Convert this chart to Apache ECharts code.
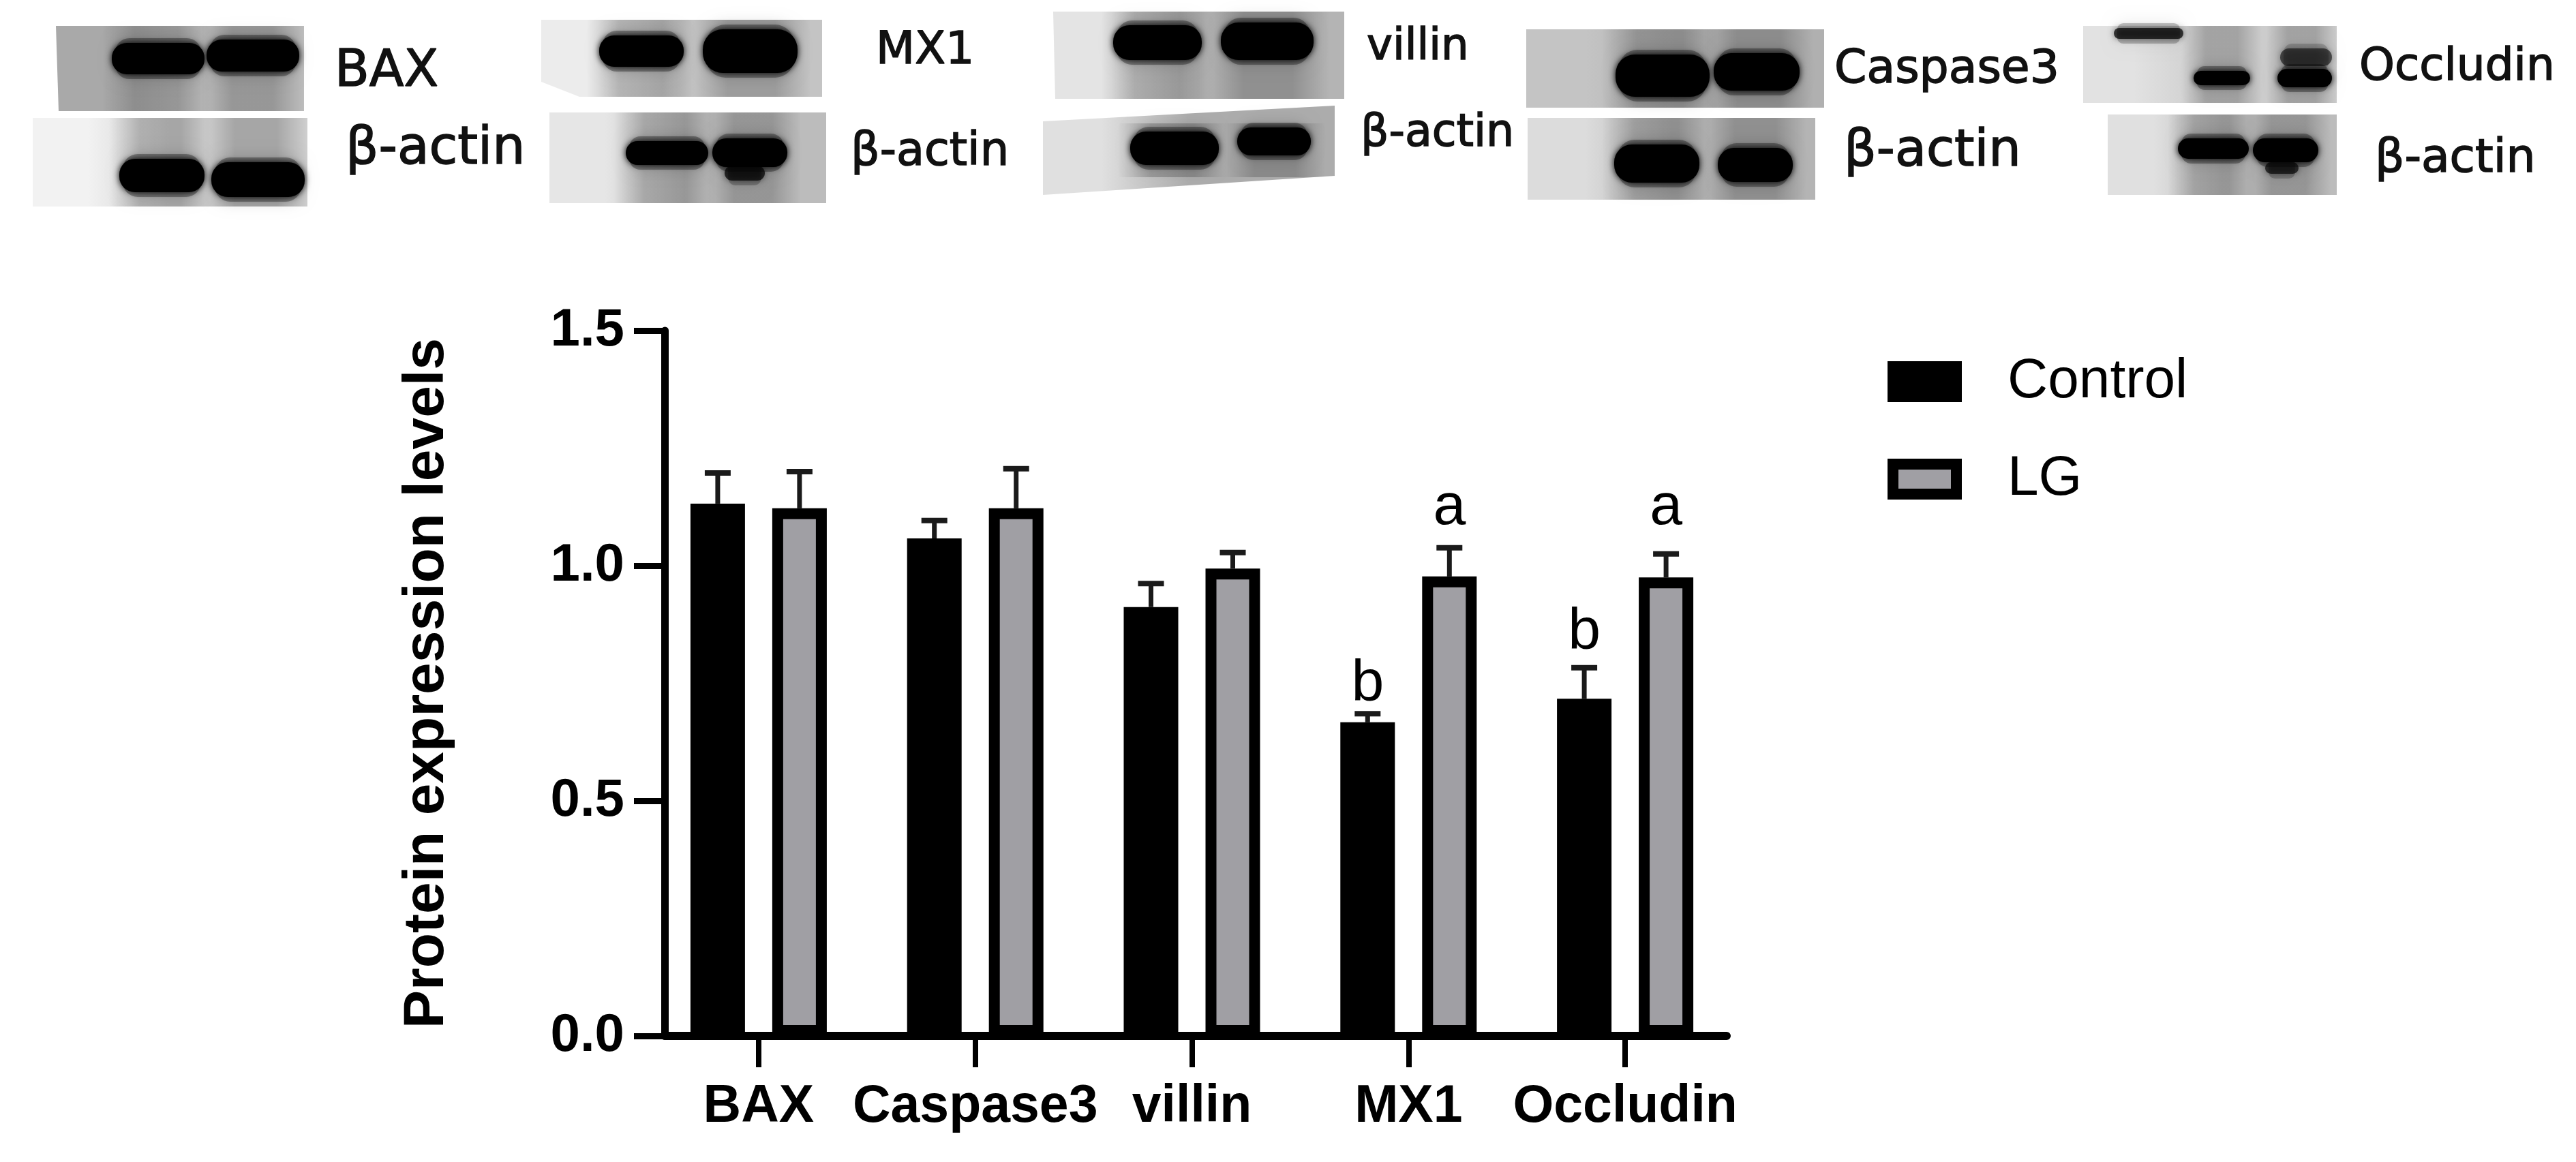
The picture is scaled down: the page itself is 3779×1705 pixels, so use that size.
<!DOCTYPE html>
<html>
<head>
<meta charset="utf-8">
<style>html,body{margin:0;padding:0;background:#fff}#c{width:3779px;height:1705px}</style>
<script src="https://cdn.jsdelivr.net/npm/echarts@6/dist/echarts.min.js"></script>
</head>
<body>
<div id="c"></div>
<script>
// ---- data ----
var categories = ['BAX', 'Caspase3', 'villin', 'MX1', 'Occludin'];
var controlValues = [1.132, 1.058, 0.912, 0.667, 0.717];
var lgValues      = [1.122, 1.122, 0.994, 0.977, 0.975];
var controlErrTop = [1.197, 1.096, 0.962, 0.685, 0.783];
var lgErrTop      = [1.200, 1.206, 1.028, 1.038, 1.025];
var yTicks = {min: 0, max: 1.5, interval: 0.5};
// letter, category index, series (0 control / 1 LG), height of its baseline
var sigLetters = [['b', 3, 0, 0.704], ['a', 3, 1, 1.08], ['b', 4, 0, 0.814], ['a', 4, 1, 1.08]];
// blot captions: text, left, baseline, font size
var blotCaptions = [
  ['BAX', 491, 133, 74], ['\u03b2-actin', 507, 247, 76],
  ['MX1', 1285, 99, 66], ['\u03b2-actin', 1248, 248, 67],
  ['villin', 2005, 93, 64], ['\u03b2-actin', 1996, 220, 65],
  ['Caspase3', 2691, 127, 68], ['\u03b2-actin', 2705, 250, 75],
  ['Occludin', 3461, 123, 66], ['\u03b2-actin', 3484, 258, 68]
];
// blot panels: outline, left/right shade, lanes, bands [x0,y0,x1,y1,alpha]
var blotPanels = [
  {p:[[82,38],[446,38],[446,163],[86,163]], c:['#a9a9a9','#bdbdbd'], l:[[150,310],[295,446]], b:[[161,60,303,112,1],[300,55,442,108,1]]},
  {p:[[48,173],[451,173],[451,303],[48,303]], c:['#f2f2f2','#cfcfcf'], l:[[160,310],[300,451]], b:[[172,230,303,285,1],[307,235,450,292,1]]},
  {p:[[794,29],[1206,29],[1206,142],[850,142],[794,120]], c:['#ececec','#c4c4c4'], l:[[860,1020],[1015,1190]], b:[[876,49,1006,101,1],[1028,40,1173,110,1]]},
  {p:[[806,165],[1212,165],[1212,298],[806,298]], c:['#e6e6e6','#bcbcbc'], l:[[900,1050],[1035,1175]], b:[[915,204,1042,245,1],[1042,200,1158,248,1],[1060,240,1125,268,0.7]]},
  {p:[[1545,17],[1972,17],[1972,145],[1548,145]], c:['#e4e4e4','#b4b4b4'], l:[[1615,1780],[1770,1950]], b:[[1630,34,1766,91,1],[1788,30,1930,91,1]]},
  {p:[[1530,178],[1958,155],[1958,258],[1530,286]], c:['#e0e0e0','#acacac'], l:[[1640,1800],[1795,1945]], b:[[1655,190,1791,245,1],[1812,184,1926,231,1]]},
  {p:[[2239,43],[2676,43],[2676,158],[2239,158]], c:['#c4c4c4','#b0b0b0'], l:[[2350,2520],[2500,2660]], b:[[2367,77,2511,145,1],[2511,75,2643,136,1]]},
  {p:[[2241,173],[2663,173],[2663,293],[2241,293]], c:['#dcdcdc','#b4b4b4'], l:[[2350,2510],[2500,2650]], b:[[2365,209,2496,271,1],[2517,214,2633,270,1]]},
  {p:[[3056,38],[3428,38],[3428,151],[3056,151]], c:['#e2e2e2','#cccccc'], l:[[3200,3318],[3325,3428]], b:[[3098,38,3206,60,0.7],[3215,101,3304,128,1],[3338,98,3424,131,1],[3342,68,3424,100,0.55]]},
  {p:[[3092,168],[3428,168],[3428,286],[3092,286]], c:['#e0e0e0','#bcbcbc'], l:[[3180,3310],[3295,3420]], b:[[3192,200,3302,236,1],[3302,200,3404,241,1],[3320,235,3375,258,0.65]]}
];
// ---- styling ----
var FONT = '"Liberation Sans", Arial, sans-serif';
var BAR_OFFSET = 60;
var chart = echarts.init(document.getElementById('c'), null, {renderer: 'canvas'});

function blotGraphics() {
  var out = [];
  blotPanels.forEach(function (b) {
    var ys = b.p.map(function (q) { return q[1]; });
    var top = Math.min.apply(null, ys), bot = Math.max.apply(null, ys);
    out.push({type: 'polygon', shape: {points: b.p}, style: {fill: new echarts.graphic.LinearGradient(0, 0, 1, 0, [
      {offset: 0, color: b.c[0]}, {offset: 0.2, color: b.c[0]}, {offset: 0.5, color: b.c[1]}, {offset: 1, color: b.c[1]}])}});
    b.l.forEach(function (l) {
      var slant = b.p[1][1] !== b.p[0][1] ? 26 : 0;
      out.push({type: 'rect', shape: {x: l[0], y: top + slant, width: l[1] - l[0], height: bot - top - slant * 2},
        style: {fill: new echarts.graphic.LinearGradient(0, 0, 1, 0, [
          {offset: 0, color: 'rgba(0,0,0,0)'}, {offset: 0.3, color: 'rgba(0,0,0,0.2)'},
          {offset: 0.7, color: 'rgba(0,0,0,0.2)'}, {offset: 1, color: 'rgba(0,0,0,0)'}])}});
    });
    b.b.forEach(function (k) {
      var w = k[2] - k[0], h = k[3] - k[1];
      out.push({type: 'rect', shape: {x: k[0] + 8, y: k[1] - 4, width: w - 16, height: h + 8, r: h * 0.4},
        style: {fill: 'rgba(0,0,0,' + 0.3 * k[4] + ')', shadowBlur: 22, shadowColor: 'rgba(0,0,0,' + 0.5 * k[4] + ')'}});
      out.push({type: 'rect', shape: {x: k[0] + 3, y: k[1] + 3, width: w - 6, height: h - 6, r: h * 0.42},
        style: {fill: 'rgba(0,0,0,' + k[4] + ')', shadowBlur: 10, shadowColor: 'rgba(0,0,0,' + k[4] + ')'}});
    });
  });
  blotCaptions.forEach(function (t) {
    out.push({type: 'text', x: t[1], y: t[2] + t[3] * 0.15,
      style: {text: t[0], fill: '#111', stroke: '#111', lineWidth: 1.5, font: t[3] + 'px "DejaVu Sans", sans-serif', align: 'left', verticalAlign: 'bottom'}});
  });
  return out;
}

function errorSeries(tops, base, sign) {
  return {
    type: 'custom', xAxisIndex: 0, yAxisIndex: 0, z: 1, silent: true, clip: false,
    data: tops.map(function (t, i) { return [i, base[i], t]; }),
    encode: {x: 0, y: [1, 2]},
    renderItem: function (params, api) {
      var lo = api.coord([api.value(0), api.value(1)]);
      var hi = api.coord([api.value(0), api.value(2)]);
      var x = lo[0] + sign * BAR_OFFSET;
      return {type: 'group', children: [
        {type: 'line', shape: {x1: x, y1: lo[1], x2: x, y2: hi[1]}, style: {stroke: '#1a1a1a', lineWidth: 7}},
        {type: 'line', shape: {x1: x - 19, y1: hi[1], x2: x + 19, y2: hi[1]}, style: {stroke: '#1a1a1a', lineWidth: 8}}
      ]};
    }
  };
}

var option = {
  animation: false,
  backgroundColor: '#fff',
  graphic: {elements: blotGraphics()},
  legend: {
    data: ['Control', 'LG'], orient: 'vertical', left: 2764, top: 514, itemWidth: 93, itemHeight: 44, itemGap: 61,
    selectedMode: false, icon: 'rect', itemStyle: {borderWidth: 16, borderColor: '#000'},
    textStyle: {fontFamily: FONT, fontSize: 82, color: '#000', padding: [0, 0, 0, 70]}
  },
  grid: [
    {left: 954, width: 1589, top: 485, height: 1035},
    {left: 975, width: 1558, top: 485, height: 1035}
  ],
  xAxis: [
    {type: 'category', gridIndex: 0, data: categories,
     axisLine: {show: false}, axisTick: {show: true, alignWithLabel: true, length: 46, lineStyle: {color: '#000', width: 8}},
     axisLabel: {fontFamily: FONT, fontWeight: 'bold', fontSize: 77, color: '#000', margin: 66, interval: 0}, splitLine: {show: false}},
    {type: 'value', gridIndex: 1, min: 0, max: 1, z: 5,
     axisLine: {show: true, onZero: false, lineStyle: {color: '#000', width: 12}}, axisTick: {show: false}, axisLabel: {show: false}, splitLine: {show: false}}
  ],
  yAxis: [
    {type: 'value', gridIndex: 0, show: false, min: yTicks.min, max: yTicks.max, interval: yTicks.interval, splitLine: {show: false}},
    {type: 'value', gridIndex: 1, min: yTicks.min, max: yTicks.max, interval: yTicks.interval,
     name: 'Protein expression levels', nameLocation: 'middle', nameGap: 306, nameRotate: 90,
     nameTextStyle: {fontFamily: FONT, fontWeight: 'bold', fontSize: 84, color: '#000'},
     axisLine: {show: true, onZero: false, lineStyle: {color: '#000', width: 11}},
     axisTick: {show: true, length: 45, lineStyle: {color: '#000', width: 9}},
     axisLabel: {fontFamily: FONT, fontWeight: 'bold', fontSize: 78, color: '#000', margin: 59,
       formatter: function (v) { return v.toFixed(1); }},
     splitLine: {show: false}}
  ],
  series: [
    errorSeries(controlErrTop, controlValues, -1),
    errorSeries(lgErrTop, lgValues, 1),
    {name: 'Control', type: 'bar', xAxisIndex: 0, yAxisIndex: 0, data: controlValues, barWidth: 80, barGap: '50%', z: 2,
     itemStyle: {color: '#000', borderColor: '#000', borderWidth: 16}},
    {name: 'LG', type: 'bar', xAxisIndex: 0, yAxisIndex: 0, data: lgValues, barWidth: 80, z: 2,
     itemStyle: {color: '#a09fa4', borderColor: '#000', borderWidth: 16}},
    {type: 'custom', xAxisIndex: 0, yAxisIndex: 0, z: 3, silent: true, clip: false,
     data: sigLetters.map(function (s) { return [s[1], s[3], s[0], s[2]]; }),
     encode: {x: 0, y: 1},
     renderItem: function (params, api) {
       var p = api.coord([api.value(0), api.value(1)]);
       var s = sigLetters[params.dataIndex];
       return {type: 'text', x: p[0] + (s[2] ? BAR_OFFSET : -BAR_OFFSET), y: p[1] + 13,
         style: {text: s[0], fill: '#000', font: '86px ' + FONT, align: 'center', verticalAlign: 'bottom'}};
     }}
  ]
};
chart.setOption(option);
</script>
</body>
</html>
